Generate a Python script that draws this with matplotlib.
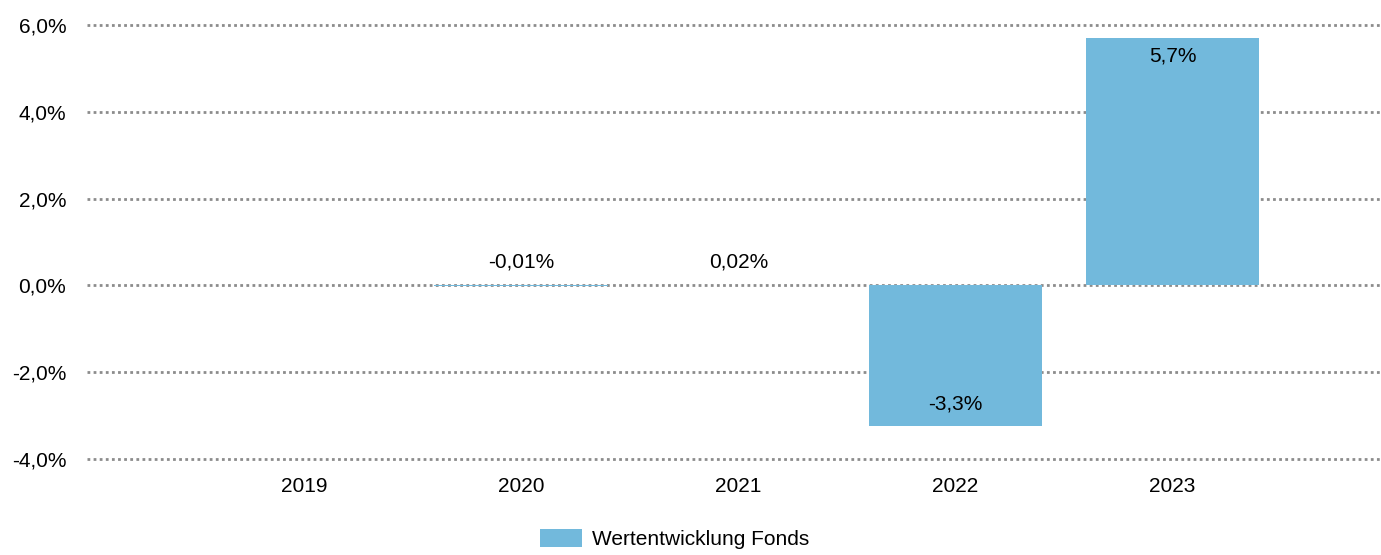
import numpy as np
import matplotlib.pyplot as plt

plt.rcParams['font.family'] = ['Liberation Sans', 'DejaVu Sans']

years = ['2019', '2020', '2021', '2022', '2023']
values = [np.nan, -0.01, 0.02, -3.25, 5.7]
labels = ['', '-0,01%', '0,02%', '-3,3%', '5,7%']

fig = plt.figure(figsize=(13.81, 5.55), dpi=100)
ax = fig.add_axes([0.063, 0.173, 0.937, 0.782])

x = np.arange(len(years))
bars = ax.bar(x, values, width=0.8, color='#72b9dc', zorder=2,
              label='Wertentwicklung Fonds')

ax.set_ylim(-4, 6)
ax.set_xlim(-1, 4.96)
ax.set_yticks([-4, -2, 0, 2, 4, 6])
ax.set_yticklabels(['-4,0%', '-2,0%', '0,0%', '2,0%', '4,0%', '6,0%'])
ax.set_xticks(x)
ax.set_xticklabels(years)
ax.tick_params(length=0, labelsize=15, pad=15)
ax.tick_params(axis='x', pad=13)
ax.grid(axis='y', linestyle=(0, (1, 1.2)), color='#8c8c8c', linewidth=2, zorder=1)
for gl in ax.get_ygridlines():
    gl.set_clip_on(False)
for s in ax.spines.values():
    s.set_visible(False)

# value labels
for i, v in enumerate(values):
    if np.isnan(v):
        continue
    if abs(v) < 1:
        ax.annotate(labels[i], (x[i], 0), xytext=(0, 17), textcoords='offset points',
                    ha='center', va='center', fontsize=15)
    elif v > 0:
        ax.annotate(labels[i], (x[i], v), xytext=(0, -13), textcoords='offset points',
                    ha='center', va='center', fontsize=15)
    else:
        ax.annotate(labels[i], (x[i], v), xytext=(0, 16), textcoords='offset points',
                    ha='center', va='center', fontsize=15)

fig.legend(loc='lower center', bbox_to_anchor=(675 / 1381, -0.012),
           frameon=False, fontsize=15, handlelength=2.0, handleheight=0.9,
           handletextpad=0.5, borderpad=0.1)

fig.savefig('out.png', dpi=100)
